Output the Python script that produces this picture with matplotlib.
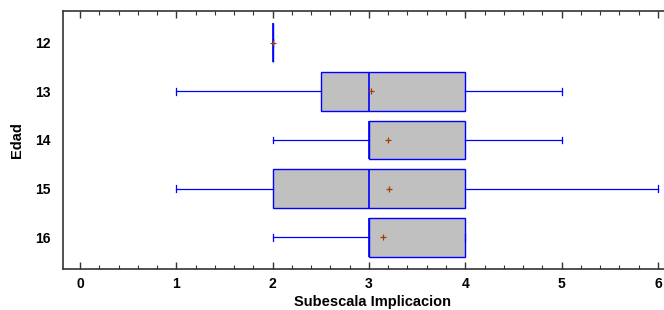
import matplotlib
matplotlib.use('Agg')
import matplotlib.pyplot as plt
from matplotlib.ticker import MultipleLocator

plt.rcParams['font.family'] = ['Liberation Sans', 'DejaVu Sans']

# Datos del diagrama de caja por edad
edades = [12, 13, 14, 15, 16]
minimo = [2, 1, 2, 1, 2]
q1 = [2, 2.5, 3, 2, 3]
mediana = [2, 3, 3, 3, 3]
q3 = [2, 4, 4, 4, 4]
maximo = [2, 5, 5, 6, 4]
media = [2, 3.02, 3.2, 3.21, 3.15]

stats = []
for i in range(len(edades)):
    stats.append({'label': str(edades[i]), 'whislo': minimo[i], 'q1': q1[i],
                  'med': mediana[i], 'q3': q3[i], 'whishi': maximo[i],
                  'mean': media[i], 'fliers': []})

fig = plt.figure(figsize=(6.64, 3.10), dpi=100)
# el eje se extiende un poco mas alla del borde derecho, como en la original
ax = fig.add_axes([0.0949, 0.1323, 0.9307, 0.8322])

azul = '#0000ff'
ax.bxp(stats, positions=edades, vert=False, widths=0.8, capwidths=0.14,
       showmeans=True, patch_artist=True,
       boxprops=dict(facecolor='#c0c0c0', edgecolor=azul, linewidth=1.0),
       medianprops=dict(color=azul, linewidth=1.2),
       whiskerprops=dict(color=azul, linewidth=0.9),
       capprops=dict(color=azul, linewidth=0.9),
       meanprops=dict(marker='+', markeredgecolor='#a04000', markersize=5,
                      markeredgewidth=0.9))

ax.set_xlim(-0.177, 6.24)
ax.set_ylim(16.65, 11.35)
ax.xaxis.set_major_locator(MultipleLocator(1))
ax.xaxis.set_minor_locator(MultipleLocator(0.2))
ax.tick_params(axis='x', which='both', direction='in', top=True, bottom=True,
               color='#333333')
ax.tick_params(axis='x', which='major', length=5, width=1.0, labelsize=10, pad=6)
ax.tick_params(axis='x', which='minor', length=3, width=0.8)
ax.tick_params(axis='y', length=0, labelsize=10, pad=9)
for lab in ax.get_xticklabels() + ax.get_yticklabels():
    lab.set_fontweight('bold')

ax.spines['right'].set_visible(False)
for s in ['left', 'top', 'bottom']:
    ax.spines[s].set_linewidth(1.2)
    ax.spines[s].set_color('#333333')

ax.set_xlabel('Subescala Implicacion', fontsize=10.5, fontweight='bold', labelpad=3)
ax.set_ylabel('Edad', fontsize=10.5, fontweight='bold', labelpad=8)

fig.savefig('out.png', dpi=100)
